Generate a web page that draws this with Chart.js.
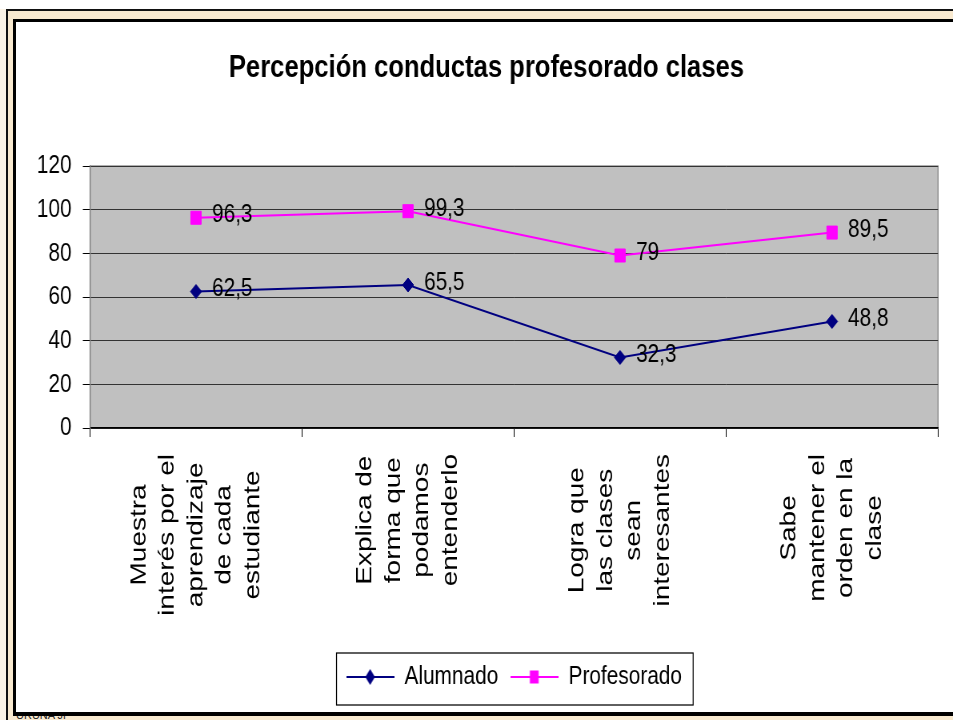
<!DOCTYPE html>
<html lang="es">
<head>
<meta charset="UTF-8">
<title>Percepción conductas profesorado clases</title>
<script src="https://cdn.jsdelivr.net/npm/chart.js"></script>
<style>
  html, body { margin: 0; padding: 0; }
  body { width: 953px; height: 720px; overflow: hidden; position: relative; background: #fff; font-family: Arial, "Liberation Sans", sans-serif; }
  .borde-izq { position: absolute; left: 0; top: 9px; width: 6px; height: 711px; background: #fbf3e6; }
  .marco { position: absolute; left: 6px; top: 9px; width: 945px; height: 709px; background: #f8e9cf; border-left: 2px solid #111; border-top: 2px solid #111; }
  .firma { position: absolute; left: 16px; top: 709px; font-size: 11px; color: #222; }
  .caja { position: absolute; left: 13px; top: 19px; width: 937px; height: 690px; background: #fff; border: 3px solid #000; border-bottom-width: 4px; border-right: none; }
  /* el original está comprimido en horizontal: se dibuja a 1191px y se escala */
  .lienzo { position: absolute; left: 0; top: 0; width: 1191px; height: 720px; transform: scaleX(0.80017); transform-origin: 0 0; }
</style>
</head>
<body>
<div class="borde-izq"></div>
<div class="marco"></div>
<div class="firma">URUNA JP</div>
<div class="caja"></div>
<div class="lienzo"><canvas id="grafico"></canvas></div>

<script>
const categorias = [
  ['Muestra', 'interés por el', 'aprendizaje', 'de cada', 'estudiante'],
  ['Explica de', 'forma que', 'podamos', 'entenderlo'],
  ['Logra que', 'las clases', 'sean', 'interesantes'],
  ['Sabe', 'mantener el', 'orden en la', 'clase']
];
const alumnado = [62.5, 65.5, 32.3, 48.8];
const profesorado = [96.3, 99.3, 79, 89.5];
const ticksY = [0, 20, 40, 60, 80, 100, 120];

const FUENTE = 'Arial, "Liberation Sans", sans-serif';
const AZUL = '#000080';
const ROSA = '#ff00ff';

// muestra de la leyenda: línea con el marcador en medio
function muestraLeyenda(color, forma) {
  const c = document.createElement('canvas');
  c.width = 60; c.height = 20;
  const g = c.getContext('2d');
  g.strokeStyle = color; g.lineWidth = 2;
  g.beginPath(); g.moveTo(0, 10); g.lineTo(60, 10); g.stroke();
  g.fillStyle = color;
  g.beginPath();
  if (forma === 'rombo') {
    g.moveTo(30, 2); g.lineTo(36, 10); g.lineTo(30, 18); g.lineTo(24, 10); g.closePath();
  } else {
    g.rect(24.5, 3.5, 11, 13);
  }
  g.fill();
  return c;
}
const muestras = [muestraLeyenda(AZUL, 'rombo'), muestraLeyenda(ROSA, 'cuadro')];

const fondoArea = {
  id: 'fondoArea',
  beforeDraw(chart) {
    const { ctx, chartArea: a } = chart;
    ctx.save();
    ctx.fillStyle = '#c0c0c0';
    ctx.fillRect(a.left, a.top, a.width, a.height);
    ctx.strokeStyle = '#808080';
    ctx.lineWidth = 1.25;
    ctx.strokeRect(a.left, a.top, a.width, a.height);
    ctx.restore();

    // etiquetas del eje X: líneas centradas, bloque pegado arriba
    const sc = chart.scales.x;
    const items = sc.getLabelItems(chart.chartArea);
    items.forEach((it, i) => {
      const lineas = Array.isArray(it.label) ? it.label : [it.label];
      ctx.save();
      ctx.font = it.font.string;
      const maxW = Math.max(...lineas.map(l => ctx.measureText(l).width));
      ctx.restore();
      it.textOffset = -(lineas.length - 1) / 2 * it.font.lineHeight;
      it.options.textAlign = 'center';
      it.options.translation = [sc.getPixelForTick(i), sc.top + 26 + maxW / 2];
    });
  }
};

const etiquetasValores = {
  id: 'etiquetasValores',
  afterDatasetsDraw(chart) {
    const ctx = chart.ctx;
    ctx.save();
    ctx.font = '26px ' + FUENTE;
    ctx.fillStyle = '#000';
    ctx.textBaseline = 'middle';
    chart.data.datasets.forEach((ds, i) => {
      chart.getDatasetMeta(i).data.forEach((pt, j) => {
        ctx.fillText(String(ds.data[j]).replace('.', ','), pt.x + 20, pt.y - 2.5);
      });
    });
    ctx.restore();
  }
};

const marcoLeyenda = {
  id: 'marcoLeyenda',
  afterDraw(chart) {
    const cajas = chart.legend.legendHitBoxes;
    if (!cajas || !cajas.length) return;
    const izq = Math.min(...cajas.map(b => b.left)) - 12;
    const der = Math.max(...cajas.map(b => b.left + b.width)) + 14;
    const cy = cajas[0].top + cajas[0].height / 2;
    const ctx = chart.ctx;
    ctx.save();
    ctx.strokeStyle = '#000';
    ctx.lineWidth = 1.25;
    ctx.strokeRect(izq, cy - 24, der - izq, 52);
    ctx.restore();
  }
};

new Chart(document.getElementById('grafico'), {
  type: 'line',
  data: {
    labels: categorias,
    datasets: [
      {
        label: 'Alumnado', data: alumnado,
        borderColor: AZUL, backgroundColor: AZUL, borderWidth: 2,
        pointStyle: 'rectRot', pointRadius: 7, pointBorderWidth: 1, tension: 0
      },
      {
        label: 'Profesorado', data: profesorado,
        borderColor: ROSA, backgroundColor: ROSA, borderWidth: 2,
        pointStyle: 'rect', pointRadius: 9.2, pointBorderWidth: 1, tension: 0
      }
    ]
  },
  options: {
    responsive: true, maintainAspectRatio: false, animation: false,
    layout: { padding: { left: 43.5, right: 18.7, top: 20, bottom: 20 } },
    scales: {
      x: {
        offset: true,
        grid: { offset: true, drawOnChartArea: false, drawTicks: true, tickLength: 9, color: '#000' },
        border: { color: '#000', width: 1.5 },
        ticks: { minRotation: 90, maxRotation: 90, autoSkip: false, color: '#000', font: { family: FUENTE, size: 28, lineHeight: 1.27 } },
        afterFit(s) { s.height = 221; }
      },
      y: {
        min: 0, max: 120,
        afterBuildTicks(s) { s.ticks = ticksY.map(v => ({ value: v })); },
        grid: { color: '#333', tickColor: '#000', tickLength: 9, lineWidth: 1 },
        border: { color: '#808080', width: 1.25 },
        ticks: { padding: 14, color: '#000', font: { family: FUENTE, size: 26 } },
        afterFit(s) { s.width = 69; }
      }
    },
    plugins: {
      title: {
        display: true,
        text: 'Percepción conductas profesorado clases',
        color: '#000',
        font: { family: FUENTE, size: 32, weight: 'bold', lineHeight: 1.2 },
        padding: { top: 29, bottom: 78.6 }
      },
      legend: {
        position: 'bottom',
        fullSize: false,
        labels: {
          usePointStyle: true, pointStyleWidth: 60, padding: 15, color: '#000',
          font: { family: FUENTE, size: 26 },
          generateLabels(chart) {
            const items = Chart.defaults.plugins.legend.labels.generateLabels(chart);
            items.forEach((it, i) => { it.pointStyle = muestras[i]; });
            return items;
          }
        }
      },
      tooltip: { enabled: false }
    }
  },
  plugins: [fondoArea, etiquetasValores, marcoLeyenda]
});
</script>
</body>
</html>
